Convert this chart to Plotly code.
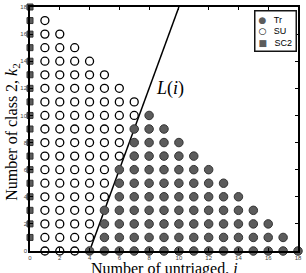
import plotly.graph_objects as go

# ---- data ----
# rows k2 = 0..18
k2_rows = list(range(0, 19))
# SU (open circles): i = 1 .. su_last[k2]  (0 = none)
su_last = [3, 4, 4, 4, 5, 5, 5, 6, 6, 6, 7, 7, 6, 5, 4, 3, 2, 1, 0]
# Tr (filled circles): i = tr_first[k2] .. tr_last[k2]  (None = none)
tr_first = [4, 5, 5, 5, 6, 6, 6, 7, 7, 7, 8, None, None, None, None, None, None, None, None]
tr_last = [18, 17, 16, 15, 14, 13, 12, 11, 10, 9, 8, None, None, None, None, None, None, None, None]
# SC2 (squares): i = 0, k2 = 1..18
sc2_k2 = list(range(1, 19))
# Line L(i)
line_i = [4, 10]
line_k2 = [0, 18]
tick_vals = [0, 2, 4, 6, 8, 10, 12, 14, 16, 18]
legend_names = ["Tr", "SU", "SC2"]

su_x, su_y, tr_x, tr_y = [], [], [], []
for k in k2_rows:
    for i in range(1, su_last[k] + 1):
        su_x.append(i); su_y.append(k)
    if tr_first[k] is not None:
        for i in range(tr_first[k], tr_last[k] + 1):
            tr_x.append(i); tr_y.append(k)

GRAY = "#5c5c5c"
fig = go.Figure()
fig.add_trace(go.Scatter(x=line_i, y=line_k2, mode="lines",
                         line=dict(color="black", width=1.5),
                         showlegend=False, cliponaxis=False))
fig.add_trace(go.Scatter(x=tr_x, y=tr_y, mode="markers", name=legend_names[0],
                         marker=dict(symbol="circle", size=8.5, color=GRAY,
                                     line=dict(color="#333333", width=1)),
                         cliponaxis=False, showlegend=False))
fig.add_trace(go.Scatter(x=su_x, y=su_y, mode="markers", name=legend_names[1],
                         marker=dict(symbol="circle", size=8, color="white",
                                     line=dict(color="black", width=1.3)),
                         cliponaxis=False, showlegend=False))
fig.add_trace(go.Scatter(x=[0] * len(sc2_k2), y=sc2_k2, mode="markers", name=legend_names[2],
                         marker=dict(symbol="square", size=6, color=GRAY,
                                     line=dict(color="#333333", width=1)),
                         cliponaxis=False, showlegend=False))

axis_common = dict(range=[0, 18], tickvals=tick_vals, ticks="inside", ticklen=3,
                   tickcolor="black", showline=True, linecolor="black", linewidth=1.5,
                   mirror="ticks", showgrid=False, zeroline=False,
                   tickfont=dict(size=6, color="#444444", family="Liberation Sans"))
fig.update_xaxes(**axis_common)
fig.update_yaxes(**axis_common)

# compact legend drawn as one boxed annotation
leg_sym = ["●", "○", "■"]
leg_sym_col = [GRAY, "black", GRAY]
leg_lines = []
for s, c, name in zip(leg_sym, leg_sym_col, legend_names):
    leg_lines.append(
        f"<span style='color:{c};font-family:DejaVu Sans'>{s}</span>&nbsp;&nbsp;&nbsp;{name}")
legend_text = "<br>".join(leg_lines)

annotations = [
    dict(text="Number of untriaged, <i>i</i>", xref="paper", yref="paper",
         x=0.5, y=-0.072, xanchor="center", yanchor="middle", showarrow=False,
         font=dict(size=16, family="Liberation Serif", color="black")),
    dict(text="Number of class 2, <i>k</i><sub>2</sub>", xref="paper", yref="paper",
         x=-0.066, y=0.49, xanchor="center", yanchor="middle", showarrow=False,
         textangle=-90,
         font=dict(size=16, family="Liberation Serif", color="black")),
    dict(text="<i>L</i>(<i>i</i>)", xref="x", yref="y", x=8.3, y=12.0,
         xanchor="left", yanchor="middle", showarrow=False,
         font=dict(size=18, family="Liberation Serif", color="black")),
    dict(text=legend_text, xref="paper", yref="paper", x=0.997, y=0.988,
         xanchor="right", yanchor="top", showarrow=False, align="left",
         bgcolor="white", bordercolor="rgb(20,20,20)", borderwidth=1.5, borderpad=3,
         font=dict(size=9, family="Liberation Sans", color="black")),
]

fig.update_layout(
    width=306, height=273,
    margin=dict(l=30, r=4, t=7, b=22),
    plot_bgcolor="white", paper_bgcolor="white",
    showlegend=False,
    annotations=annotations,
)
fig.write_html("out.html")
